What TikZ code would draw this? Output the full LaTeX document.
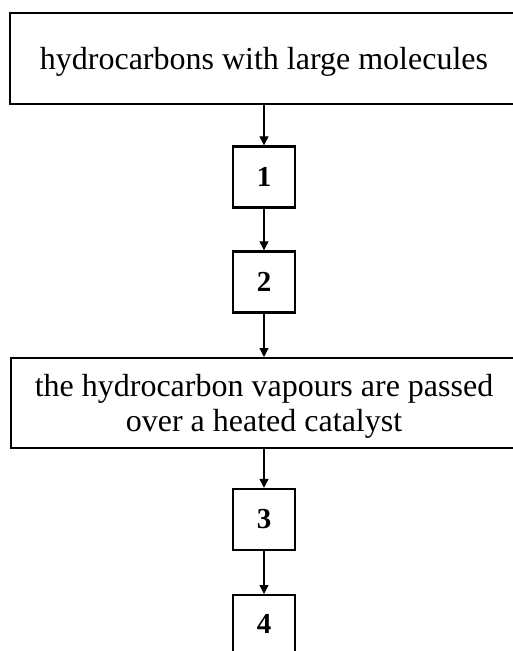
\documentclass[tikz,border=0pt]{standalone}
\usepackage{fontspec}
\setmainfont{Liberation Serif}
\usetikzlibrary{arrows.meta}
\begin{document}
\begin{tikzpicture}[x=1pt,y=-1pt,
  bigbox/.style={draw, line width=2.4pt, minimum height=91pt, anchor=north west, inner sep=0pt},
  boxtext/.style={align=center, font=\fontsize{32}{35}\selectfont, inner sep=0pt},
  numbox/.style={draw, line width=2.4pt, minimum width=62pt, minimum height=61pt, font=\fontsize{29}{33}\selectfont\bfseries, inner sep=0pt},
  conn/.style={line width=1.2pt, -{Triangle[length=9pt,width=9pt]}}]
\useasboundingbox (0,0) rectangle (513,651);
\clip (0,0) rectangle (513,651);
\fill[white] (0,0) rectangle (513,651);
\node[bigbox, minimum width=512pt] (top) at (9,12) {};
\node[boxtext] (toptext) at ([yshift=-3pt]top.center -| 264,0) {hydrocarbons with large molecules};
\node[numbox] (n1) at (264,177) {1};
\node[numbox] (n2) at (264,282) {2};
\node[bigbox, minimum width=511pt, minimum height=90pt] (mid) at (10,357) {};
\node[boxtext] (midtext) at ([yshift=-3pt]mid.center -| 264,0) {the hydrocarbon vapours are passed\\over a heated catalyst};
\node[numbox] (n3) at (264,519.5) {3};
\node[numbox, minimum height=70pt, anchor=north] (n4) at (264,594) {\raisebox{12pt}{4}};
\draw[conn] (top.south -| n1) -- (n1.north);
\draw[conn] (n1) -- (n2);
\draw[conn] (n2.south) -- (mid.north -| n2);
\draw[conn] (mid.south -| n3) -- (n3.north);
\draw[conn] (n3) -- (n4);
\end{tikzpicture}
\end{document}
